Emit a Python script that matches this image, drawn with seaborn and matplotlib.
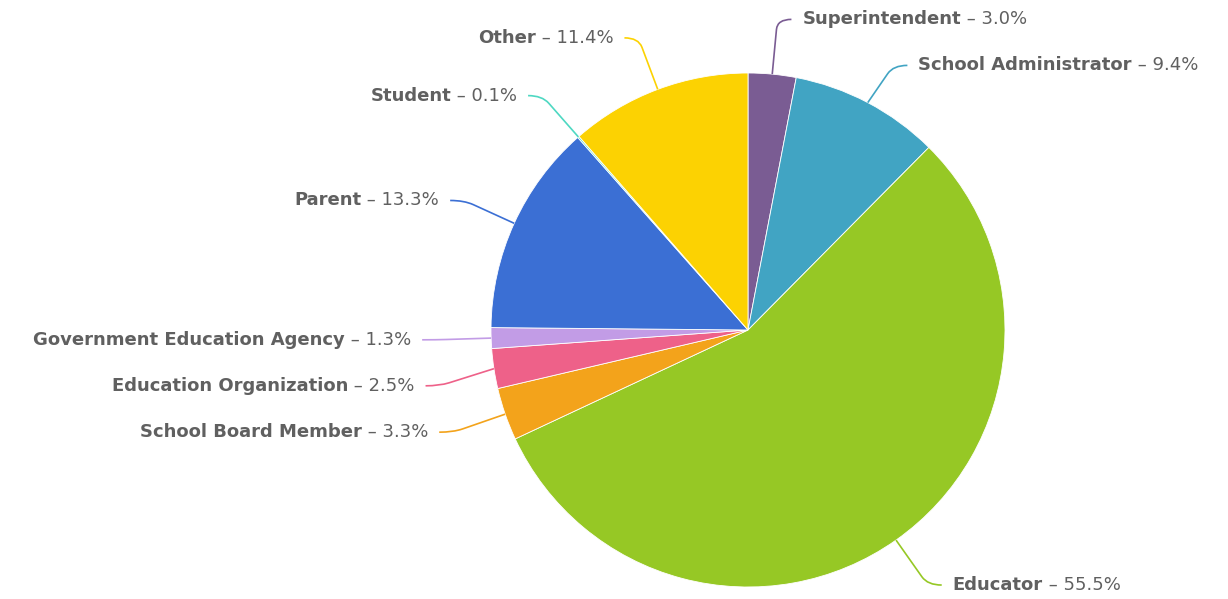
import numpy as np
import matplotlib
matplotlib.use("Agg")
import matplotlib.pyplot as plt
from matplotlib.path import Path
from matplotlib.patches import PathPatch
import seaborn as sns

categories = ["Superintendent", "School Administrator", "Educator", "School Board Member",
              "Education Organization", "Government Education Agency", "Parent", "Student", "Other"]
values = [3.0, 9.4, 55.5, 3.3, 2.5, 1.3, 13.3, 0.1, 11.4]
colors = ["#7a5c93", "#41a4c3", "#96c825", "#f3a31b", "#ee6189", "#c29ce6", "#3b6fd4", "#4ed8c2", "#fcd202"]

sns.set_theme(style="white")
plt.rcParams['font.family'] = ['DejaVu Sans']

W, H = 1228, 599
fig = plt.figure(figsize=(W / 100, H / 100), dpi=100)
ax = fig.add_axes([0, 0, 1, 1])
ax.set_xlim(0, W)
ax.set_ylim(0, H)
ax.axis("off")

cx, cy = 748, 330   # pixel coords, y downward
R = 257
RL = 312

def Y(y):
    return H - y

ax.pie(values, colors=colors, startangle=90, counterclock=False, center=(cx, Y(cy)), radius=R,
       wedgeprops=dict(edgecolor="white", linewidth=0.6))
ax.set_xlim(0, W)
ax.set_ylim(0, H)
ax.set_aspect("equal")

total = sum(values)
cum = np.cumsum([0] + values[:-1])
mids = [(c + v / 2) / total * 2 * np.pi for c, v in zip(cum, values)]

labels = []
for name, val, col, phi in zip(categories, values, colors, mids):
    s, c = np.sin(phi), np.cos(phi)
    labels.append(dict(name=name, val=val, col=col, phi=phi,
                       p0=(cx + R * s, cy - R * c),
                       ax_=cx + RL * s, ay=cy - RL * c, right=s >= 0))

# spread labels on each side
for side in (True, False):
    grp = sorted([l for l in labels if l["right"] == side], key=lambda l: l["ay"])
    for i in range(1, len(grp)):
        if grp[i]["ay"] - grp[i - 1]["ay"] < 46:
            grp[i]["ay"] = grp[i - 1]["ay"] + 46
    if len(grp) and grp[-1]["ay"] > H - 9:
        shift = grp[-1]["ay"] - (H - 9)
        for g in grp:
            g["ay"] -= shift

fig.canvas.draw()
renderer = fig.canvas.get_renderer()
tcol = "#606060"
fs = 13
for l in labels:
    x0, y0 = l["p0"]
    xa, ya = l["ax_"], l["ay"]
    sgn = 1 if l["right"] else -1
    xe = xa + sgn * 14
    vx, vy = xa - x0, ya - y0
    d = np.hypot(vx, vy)
    k = max(0, (d - 10) / d)
    q1 = (x0 + vx * k, y0 + vy * k)
    verts = [(x0, Y(y0)), (q1[0], Y(q1[1])), (xa, Y(ya)), (xe, Y(ya))]
    codes = [Path.MOVETO, Path.LINETO, Path.CURVE3, Path.CURVE3]
    ax.add_patch(PathPatch(Path(verts, codes), fill=False, edgecolor=l["col"], lw=1.2))
    xt = xa + sgn * 25
    valtxt = " \u2013 %.1f%%" % l["val"]
    if l["right"]:
        t1 = ax.text(xt, Y(ya), l["name"], fontsize=fs, fontweight="bold", color=tcol,
                     ha="left", va="center")
        bb = t1.get_window_extent(renderer)
        ax.text(bb.x1, Y(ya), valtxt, fontsize=fs, color=tcol, ha="left", va="center")
    else:
        t2 = ax.text(xt, Y(ya), valtxt, fontsize=fs, color=tcol, ha="right", va="center")
        bb = t2.get_window_extent(renderer)
        ax.text(bb.x0, Y(ya), l["name"], fontsize=fs, fontweight="bold", color=tcol,
                ha="right", va="center")

fig.savefig("out.png", dpi=100, facecolor="white")
